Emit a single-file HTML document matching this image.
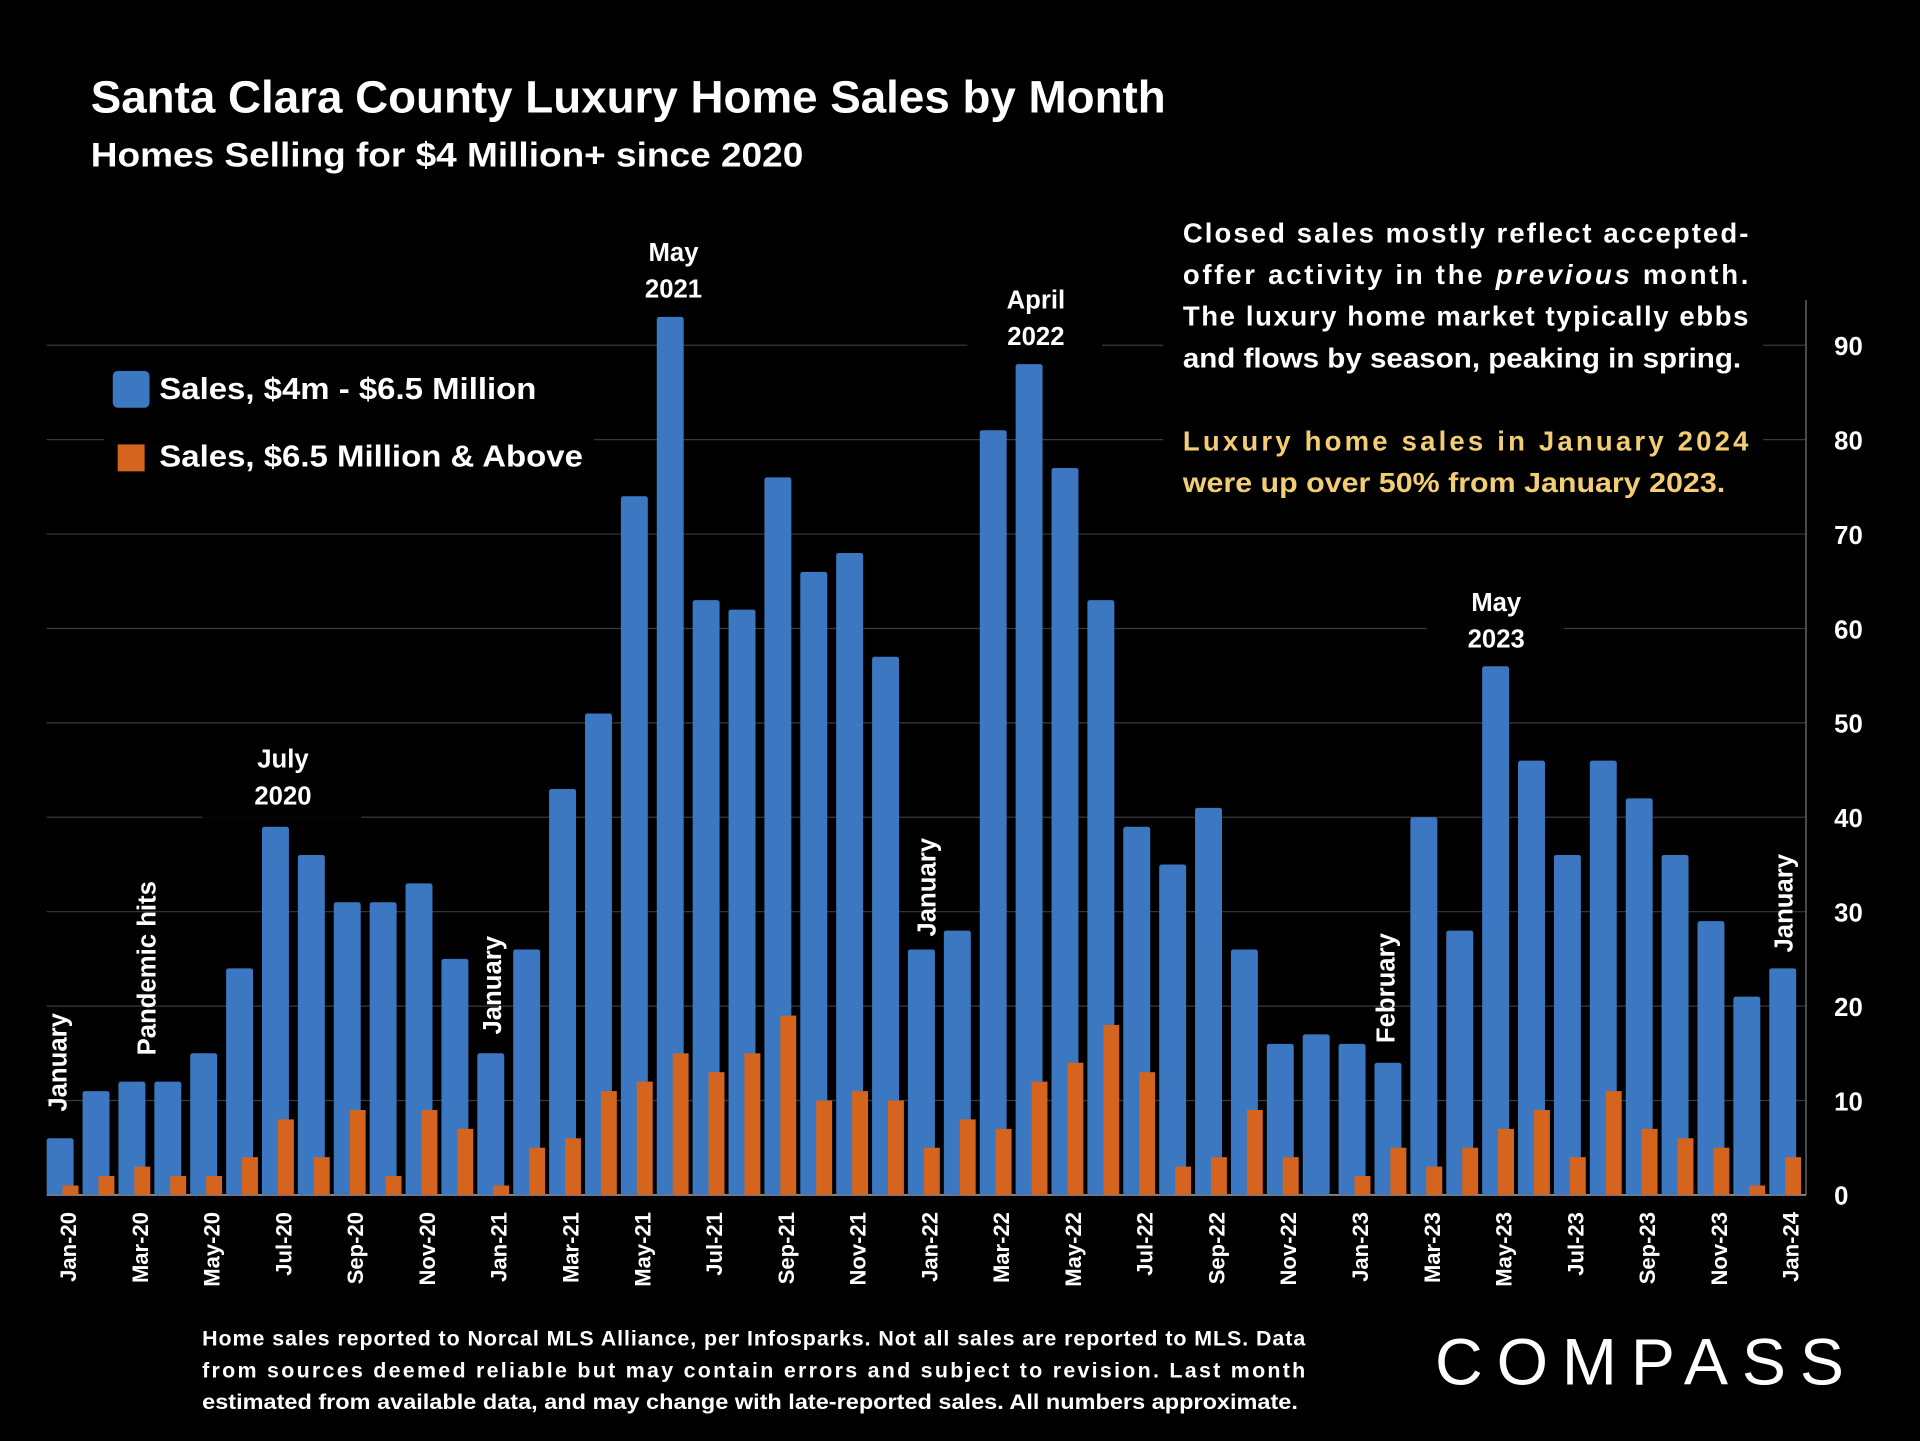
<!DOCTYPE html>
<html><head><meta charset="utf-8"><style>
html,body{margin:0;padding:0;background:#000;}
svg{display:block;}
text{font-family:"Liberation Sans",sans-serif;font-weight:bold;fill:#fff;}
</style></head><body>
<svg id="chart" width="1920" height="1441" viewBox="0 0 1568 1177" xmlns="http://www.w3.org/2000/svg">
<rect width="1568" height="1177" fill="#000"/>
<text x="74" y="92" font-size="37" textLength="878" lengthAdjust="spacingAndGlyphs">Santa Clara County Luxury Home Sales by Month</text>
<text x="74" y="136" font-size="28" textLength="582" lengthAdjust="spacingAndGlyphs">Homes Selling for $4 Million+ since 2020</text>
<g id="grid"></g>
<line x1="1475" y1="245" x2="1475" y2="976" stroke="#777" stroke-width="1"/>
<line x1="38" y1="976" x2="1475" y2="976" stroke="#888" stroke-width="1.5"/>
<g id="yticks"></g>
<g id="bars"></g>
<g id="xticks"></g>
<g>
<rect x="85" y="290" width="400" height="108" fill="#000"/>
<g>
<rect x="92" y="303" width="30" height="30" rx="4" fill="#3b78c1"/>
<text x="130" y="326" font-size="25" textLength="308" lengthAdjust="spacingAndGlyphs">Sales, $4m - $6.5 Million</text></g>
<g>
<rect x="96" y="363" width="22" height="22" fill="#d4641e"/>
<text x="130" y="381" font-size="25" textLength="346" lengthAdjust="spacingAndGlyphs">Sales, $6.5 Million &amp; Above</text></g>
</g>
<g font-size="22.5">
<rect x="950" y="172" width="490" height="238" fill="#000"/>
<text x="966" y="198" textLength="462" lengthAdjust="spacing">Closed sales mostly reflect accepted-</text>
<text x="966" y="232" textLength="462" lengthAdjust="spacing">offer activity in the <tspan font-style="italic">previous</tspan> month.</text>
<text x="966" y="266" textLength="462" lengthAdjust="spacing">The luxury home market typically ebbs</text>
<text x="966" y="300" textLength="456" lengthAdjust="spacingAndGlyphs">and flows by season, peaking in spring.</text>
<text x="966" y="368" textLength="462" lengthAdjust="spacing" style="fill:#f3cd74">Luxury home sales in January 2024</text>
<text x="966" y="402" textLength="443" lengthAdjust="spacingAndGlyphs" style="fill:#f3cd74">were up over 50% from January 2023.</text>
</g>
<g font-size="21" text-anchor="middle">
<rect x="165" y="600" width="130" height="68" fill="#000"/>
<text x="231" y="627">July</text><text x="231" y="657">2020</text>
<rect x="505" y="185" width="90" height="70" fill="#000"/>
<text x="550" y="213">May</text><text x="550" y="243">2021</text>
<rect x="790" y="225" width="110" height="68" fill="#000"/>
<text x="846" y="252">April</text><text x="846" y="282">2022</text>
<rect x="1165" y="472" width="112" height="68" fill="#000"/>
<text x="1222" y="499">May</text><text x="1222" y="529">2023</text>
<text transform="translate(54,908) rotate(-90)" text-anchor="start">January</text>
<text transform="translate(127,862) rotate(-90)" text-anchor="start">Pandemic hits</text>
<text transform="translate(409,845) rotate(-90)" text-anchor="start">January</text>
<text transform="translate(764,765) rotate(-90)" text-anchor="start">January</text>
<text transform="translate(1139,852) rotate(-90)" text-anchor="start">February</text>
<text transform="translate(1464,778) rotate(-90)" text-anchor="start">January</text>
</g>
<g font-size="17.5">
<text x="165" y="1099" textLength="901" lengthAdjust="spacing">Home sales reported to Norcal MLS Alliance, per Infosparks. Not all sales are reported to MLS. Data</text>
<text x="165" y="1125" textLength="901" lengthAdjust="spacing">from sources deemed reliable but may contain errors and subject to revision.  Last month</text>
<text x="165" y="1151" textLength="895" lengthAdjust="spacingAndGlyphs">estimated from available data, and may change with late-reported sales. All numbers approximate.</text>
</g>
<text x="1172" y="1131" font-size="54" style="font-weight:normal" textLength="334" lengthAdjust="spacing">COMPASS</text>
</svg>
<script>
const months = ["Jan-20","Feb-20","Mar-20","Apr-20","May-20","Jun-20","Jul-20","Aug-20","Sep-20","Oct-20","Nov-20","Dec-20","Jan-21","Feb-21","Mar-21","Apr-21","May-21","Jun-21","Jul-21","Aug-21","Sep-21","Oct-21","Nov-21","Dec-21","Jan-22","Feb-22","Mar-22","Apr-22","May-22","Jun-22","Jul-22","Aug-22","Sep-22","Oct-22","Nov-22","Dec-22","Jan-23","Feb-23","Mar-23","Apr-23","May-23","Jun-23","Jul-23","Aug-23","Sep-23","Oct-23","Nov-23","Dec-23","Jan-24"];
const salesMid = [6,11,12,12,15,24,39,36,31,31,33,25,15,26,43,51,74,93,63,62,76,66,68,57,26,28,81,88,77,63,39,35,41,26,16,17,16,14,40,28,56,46,36,46,42,36,29,21,24];
const salesHigh = [1,2,3,2,2,4,8,4,9,2,9,7,1,5,6,11,12,15,13,15,19,10,11,10,5,8,7,12,14,18,13,3,4,9,4,0,2,5,3,5,7,9,4,11,7,6,5,1,4];
const yTicks = [0,10,20,30,40,50,60,70,80,90];
const NS="http://www.w3.org/2000/svg";
const y0=976, yPer=(976-282)/90, x0=38, step=(1455-48)/48;
const yScale=v=>y0-v*yPer;
const xScale=i=>x0+i*step;
function mk(tag,attrs,parent){const e=document.createElementNS(NS,tag);for(const k in attrs)e.setAttribute(k,attrs[k]);parent.appendChild(e);return e;}
const grid=document.getElementById('grid'),yt=document.getElementById('yticks'),bars=document.getElementById('bars'),xt=document.getElementById('xticks');
yTicks.forEach(v=>{
  if(v>0){const l=mk('line',{x1:38,x2:1475,y1:yScale(v),y2:yScale(v),stroke:'#3a3a3a','stroke-width':1},grid);
  
  }
  const t=mk('text',{x:1498,y:yScale(v)+8,'font-size':21},yt);t.textContent=v;
  
  
});
months.forEach((m,i)=>{
  const b=mk('rect',{x:xScale(i),y:yScale(salesMid[i]),width:22,height:salesMid[i]*yPer,fill:'#3b78c1',rx:2},bars);
  
  
  if(salesHigh[i]>0){const o=mk('rect',{x:xScale(i)+13,y:yScale(salesHigh[i]),width:13,height:salesHigh[i]*yPer,fill:'#d4641e'},bars);
  
  }
  if(i%2===0){const t=mk('text',{transform:`translate(${xScale(i)+24},990) rotate(-90)`,'text-anchor':'end','font-size':18},xt);t.textContent=m;
  
  }
});
</script>
</body></html>
